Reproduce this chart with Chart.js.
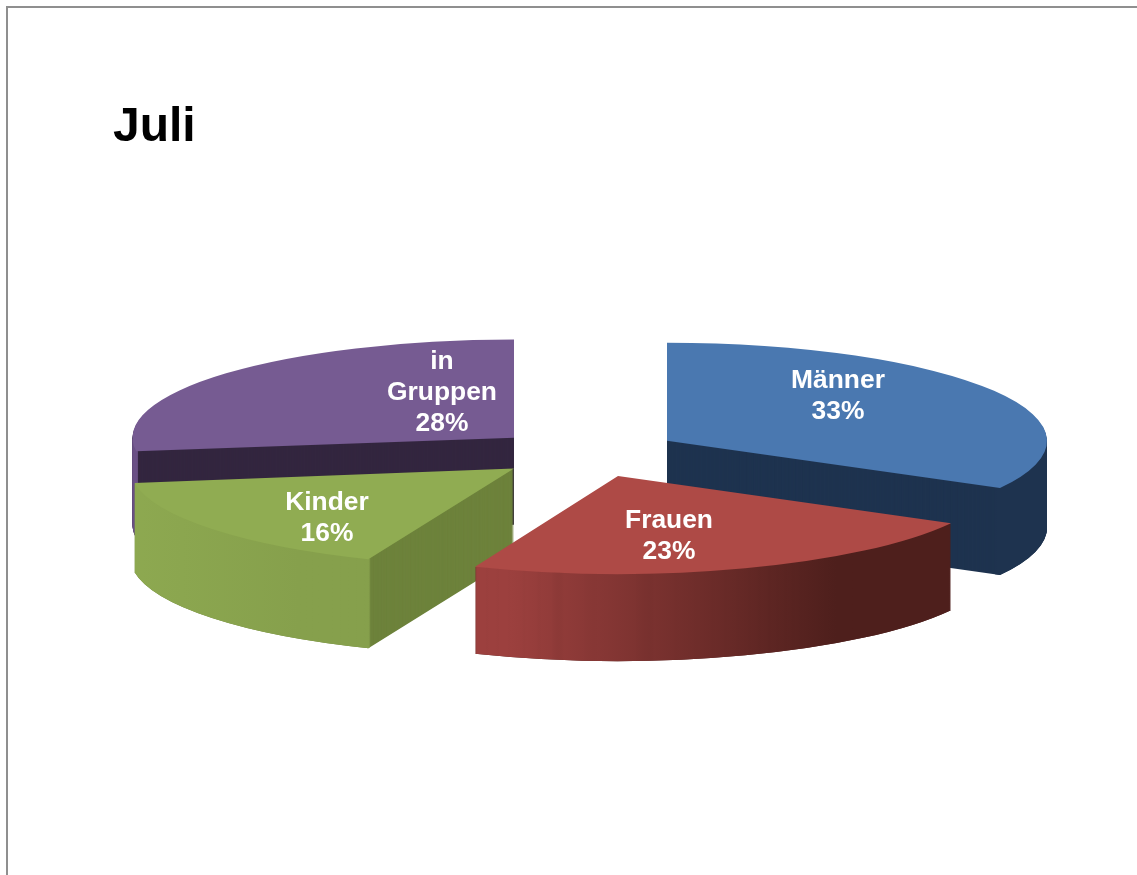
<!DOCTYPE html>
<html><head><meta charset="utf-8">
<style>
html,body{margin:0;padding:0;background:#fff;overflow:hidden}
#frame{position:absolute;left:6px;top:6px;width:1300px;height:1000px;border:2px solid #8f8f8f}
#wrap{position:absolute;left:0;top:0;width:1137px;height:875px}
</style>
<script src="https://cdn.jsdelivr.net/npm/chart.js@4"></script>
</head><body>
<div id="frame"></div>
<div id="wrap"><canvas id="c" width="1137" height="875"></canvas></div>
<script>
const categories = ['Männer', 'Frauen', 'Kinder', 'in Gruppen'];
const values = [33, 23, 16, 28];
const topColors = ['#4a78b0', '#ae4a46', '#90ac52', '#765b92'];
const cutColors = ['#1e334f', '#4f1f1c', '#6d823b', '#33263f'];
const rimStart = ['#1e334f', '#9c403e', '#90ac52', '#6a5085'];
const rimEnd = ['#1e334f', '#4e1f1c', '#86a04c', '#6a5085'];
const rimStop = [1, 0.69, 1, 1];
const labelLines = [['Männer', '33%'], ['Frauen', '23%'], ['Kinder', '16%'], ['in', 'Gruppen', '28%']];
const titleText = 'Juli';

const squash = 0.258, explode = 94;
const sliceDepth = [87, 87, 89, 87];
const sliceStretch = [1, 1, 1.01, 1.004];
const rimBand = [6, 6, 6, 2];
// the reference's perspective moves the slice edges by a little; values stay as labelled
const edgeShiftDeg = [[0, 0], [0, 0.5], [0.7, 2.3], [2.8, 0]];
const drawOrder = [3, 2, 0, 1];
const labelCenters = [[838, 396.5], [669, 536.5], [327, 518.5], [442, 392.3]];
const rad = d => d * Math.PI / 180;

const pie3d = {
  id: 'pie3d',
  beforeDatasetDraw(chart, args) {
    const ctx = chart.ctx;
    const els = chart.getDatasetMeta(args.index).data;
    const paint = (el, i, color, dy, inner) => {
      const saved = el.options, savedInner = el.innerRadius;
      const s0 = el.startAngle, e0 = el.endAngle, c0 = el.circumference;
      const mid = (s0 + e0) / 2;
      el.options = Object.assign({}, saved, {backgroundColor: color, borderWidth: 0, borderColor: color});
      el.startAngle = s0 + rad(edgeShiftDeg[i][0]);
      el.endAngle = e0 + rad(edgeShiftDeg[i][1]);
      if (inner) {
        // the outer wall: only the part of the rim that faces the viewer
        el.innerRadius = el.outerRadius - inner;
        el.startAngle = Math.max(el.startAngle, 0);
        el.endAngle = Math.min(el.endAngle, Math.PI);
      }
      el.circumference = el.endAngle - el.startAngle;
      ctx.save();
      ctx.translate(Math.round(el.x + Math.cos(mid) * explode), el.y + Math.sin(mid) * explode * squash + dy);
      ctx.scale(sliceStretch[i], squash);
      ctx.translate(-el.x, -el.y);
      el.draw(ctx);
      ctx.restore();
      el.options = saved; el.innerRadius = savedInner;
      el.startAngle = s0; el.endAngle = e0; el.circumference = c0;
    };
    drawOrder.forEach(i => {
      const el = els[i];
      const mid = (el.startAngle + el.endAngle) / 2;
      const sx = el.x + Math.cos(mid) * explode;
      const xa = sx + Math.cos(el.startAngle) * el.outerRadius;
      const xb = sx + Math.cos(el.endAngle) * el.outerRadius;
      const rim = ctx.createLinearGradient(Math.min(xa, xb), 0, Math.max(xa, xb), 0);
      rim.addColorStop(0, rimStart[i]);
      rim.addColorStop(rimStop[i], rimEnd[i]);
      rim.addColorStop(1, rimEnd[i]);
      for (let d = sliceDepth[i]; d > 0; d--) paint(el, i, cutColors[i], d);
      for (let d = sliceDepth[i]; d > 0; d--) paint(el, i, rim, d, rimBand[i]);
      paint(el, i, topColors[i], 0);
    });
    return false;
  },
  afterDatasetsDraw(chart) {
    const ctx = chart.ctx;
    ctx.save();
    ctx.fillStyle = '#fff';
    ctx.font = 'bold 26.4px "Liberation Sans", Arial, sans-serif';
    ctx.textAlign = 'center';
    ctx.textBaseline = 'middle';
    labelLines.forEach((lines, i) => {
      const [cx, cy] = labelCenters[i];
      const step = 31;
      lines.forEach((t, j) => ctx.fillText(t, cx, cy + (j - (lines.length - 1) / 2) * step));
    });
    ctx.restore();
  }
};

new Chart(document.getElementById('c'), {
  type: 'pie',
  data: {labels: categories, datasets: [{data: values, backgroundColor: topColors, borderWidth: 0}]},
  options: {
    responsive: false,
    animation: false,
    radius: 380,
    rotation: 0,
    layout: {padding: {left: 113, right: 78, top: 99, bottom: 125.4}},
    plugins: {
      legend: {display: false},
      tooltip: {enabled: false},
      title: {display: true, text: titleText, align: 'start', color: '#000',
        font: {family: '"Liberation Sans", Arial, sans-serif', size: 48, weight: 'bold', lineHeight: 1.2},
        padding: 0}
    }
  },
  plugins: [pie3d]
});
</script>
</body></html>
